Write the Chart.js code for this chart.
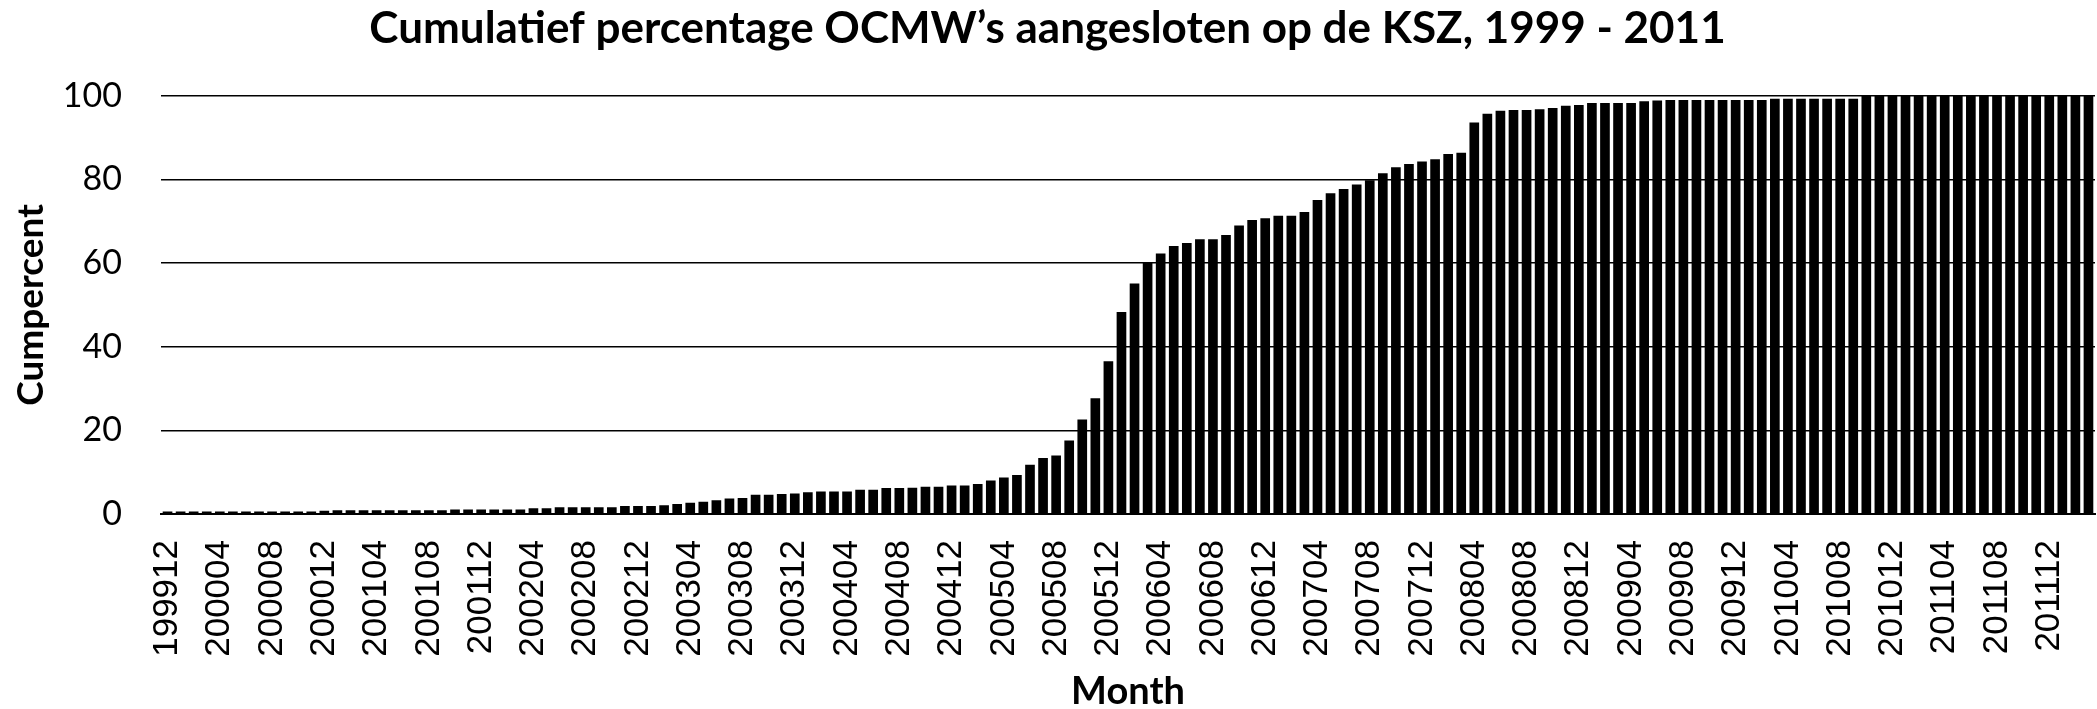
<!DOCTYPE html>
<html>
<head>
<meta charset="utf-8">
<title>Cumulatief percentage OCMW's</title>
<script src="https://cdn.jsdelivr.net/npm/chart.js@4/dist/chart.umd.min.js"></script>
<style>
  html, body { margin: 0; padding: 0; background: #fff; }
  #chart { display: block; }
</style>
</head>
<body>
<canvas id="chart" width="2097" height="709"></canvas>
<script>
// Months, 199912 - 201203
const months = [
  '199912',
  '200001','200002','200003','200004','200005','200006','200007','200008','200009','200010','200011','200012',
  '200101','200102','200103','200104','200105','200106','200107','200108','200109','200110','200111','200112',
  '200201','200202','200203','200204','200205','200206','200207','200208','200209','200210','200211','200212',
  '200301','200302','200303','200304','200305','200306','200307','200308','200309','200310','200311','200312',
  '200401','200402','200403','200404','200405','200406','200407','200408','200409','200410','200411','200412',
  '200501','200502','200503','200504','200505','200506','200507','200508','200509','200510','200511','200512',
  '200601','200602','200603','200604','200605','200606','200607','200608','200609','200610','200611','200612',
  '200701','200702','200703','200704','200705','200706','200707','200708','200709','200710','200711','200712',
  '200801','200802','200803','200804','200805','200806','200807','200808','200809','200810','200811','200812',
  '200901','200902','200903','200904','200905','200906','200907','200908','200909','200910','200911','200912',
  '201001','201002','201003','201004','201005','201006','201007','201008','201009','201010','201011','201012',
  '201101','201102','201103','201104','201105','201106','201107','201108','201109','201110','201111','201112',
  '201201','201202','201203'
];

// Cumulative percent
const cumpercent = [
  0.6,
  0.6, 0.6, 0.6, 0.6, 0.6, 0.6, 0.6, 0.6, 0.6, 0.6, 0.6, 0.8,
  0.9, 0.9, 0.9, 0.9, 0.9, 0.9, 0.9, 0.9, 0.9, 1.1, 1.1, 1.1,
  1.1, 1.1, 1.1, 1.35, 1.35, 1.6, 1.6, 1.6, 1.6, 1.6, 1.9, 1.9,
  1.9, 2.1, 2.4, 2.7, 2.9, 3.3, 3.7, 3.8, 4.6, 4.6, 4.8, 4.9,
  5.2, 5.4, 5.4, 5.4, 5.8, 5.8, 6.2, 6.2, 6.3, 6.5, 6.5, 6.8,
  6.8, 7.2, 8.0, 8.7, 9.3, 11.8, 13.4, 14.0, 17.6, 22.6, 27.7, 36.5,
  48.3, 55.1, 60.0, 62.3, 64.1, 64.8, 65.7, 65.7, 66.7, 69.0, 70.3, 70.7,
  71.3, 71.3, 72.2, 75.1, 76.7, 77.7, 78.8, 79.8, 81.5, 82.9, 83.7, 84.3,
  84.8, 86.1, 86.4, 93.6, 95.7, 96.4, 96.6, 96.6, 96.8, 97.1, 97.6, 97.8,
  98.3, 98.3, 98.3, 98.3, 98.7, 98.9, 99.0, 99.0, 99.0, 99.0, 99.0, 99.0,
  99.0, 99.0, 99.3, 99.3, 99.3, 99.3, 99.3, 99.3, 99.3, 100, 100, 100,
  100, 100, 100, 100, 100, 100, 100, 100, 100, 100, 100, 100,
  100, 100, 100
];

const yTicks = [0, 20, 40, 60, 80, 100];

const FONT = 'Lato, "Open Sans", sans-serif';
const TICK_FONT_X = '"Liberation Sans", Arial, sans-serif';

new Chart(document.getElementById('chart'), {
  type: 'bar',
  data: {
    labels: months,
    datasets: [{
      label: 'Cumpercent',
      data: cumpercent,
      backgroundColor: '#000',
      borderWidth: 0,
      categoryPercentage: 1.0,
      barPercentage: 0.74
    }]
  },
  options: {
    responsive: false,
    animation: false,
    devicePixelRatio: 1,
    layout: { padding: { left: 0, right: 2, top: 0, bottom: 0 } },
    plugins: {
      legend: { display: false },
      tooltip: { enabled: false },
      title: {
        display: true,
        text: 'Cumulatief percentage OCMW’s aangesloten op de KSZ, 1999 - 2011',
        color: '#000',
        font: { family: FONT, size: 44, weight: 'bold' },
        padding: { top: 2, bottom: 41 }
      }
    },
    scales: {
      x: {
        grid: { display: false, drawTicks: false },
        border: { display: true, color: '#000', width: 2 },
        ticks: {
          autoSkip: false,
          minRotation: 90,
          maxRotation: 90,
          padding: 26,
          color: '#000',
          font: { family: TICK_FONT_X, size: 35 },
          callback: function (value, index) {
            return index % 4 === 0 ? months[index] : '';
          }
        },
        title: {
          display: true,
          text: 'Month',
          color: '#000',
          font: { family: FONT, size: 38, weight: 'bold', lineHeight: 0.9 },
          padding: { top: 0, bottom: 0 }
        },
        afterFit: function (scale) {
          scale.height = 195;
          scale.paddingLeft = 0;
          scale.paddingRight = 0;
        }
      },
      y: {
        min: 0,
        max: 100,
        afterBuildTicks: function (scale) {
          scale.ticks = yTicks.map(v => ({ value: v }));
        },
        grid: { color: '#000', lineWidth: 1.5, drawTicks: false },
        border: { display: false },
        ticks: {
          padding: 39,
          color: '#000',
          font: { family: FONT, size: 34 }
        },
        title: {
          display: true,
          text: 'Cumpercent',
          color: '#000',
          font: { family: FONT, size: 37, weight: 'bold', lineHeight: 1 },
          padding: { top: 13, bottom: 0 }
        },
        afterFit: function (scale) { scale.width = 161; }
      }
    }
  }
});
</script>
</body>
</html>
